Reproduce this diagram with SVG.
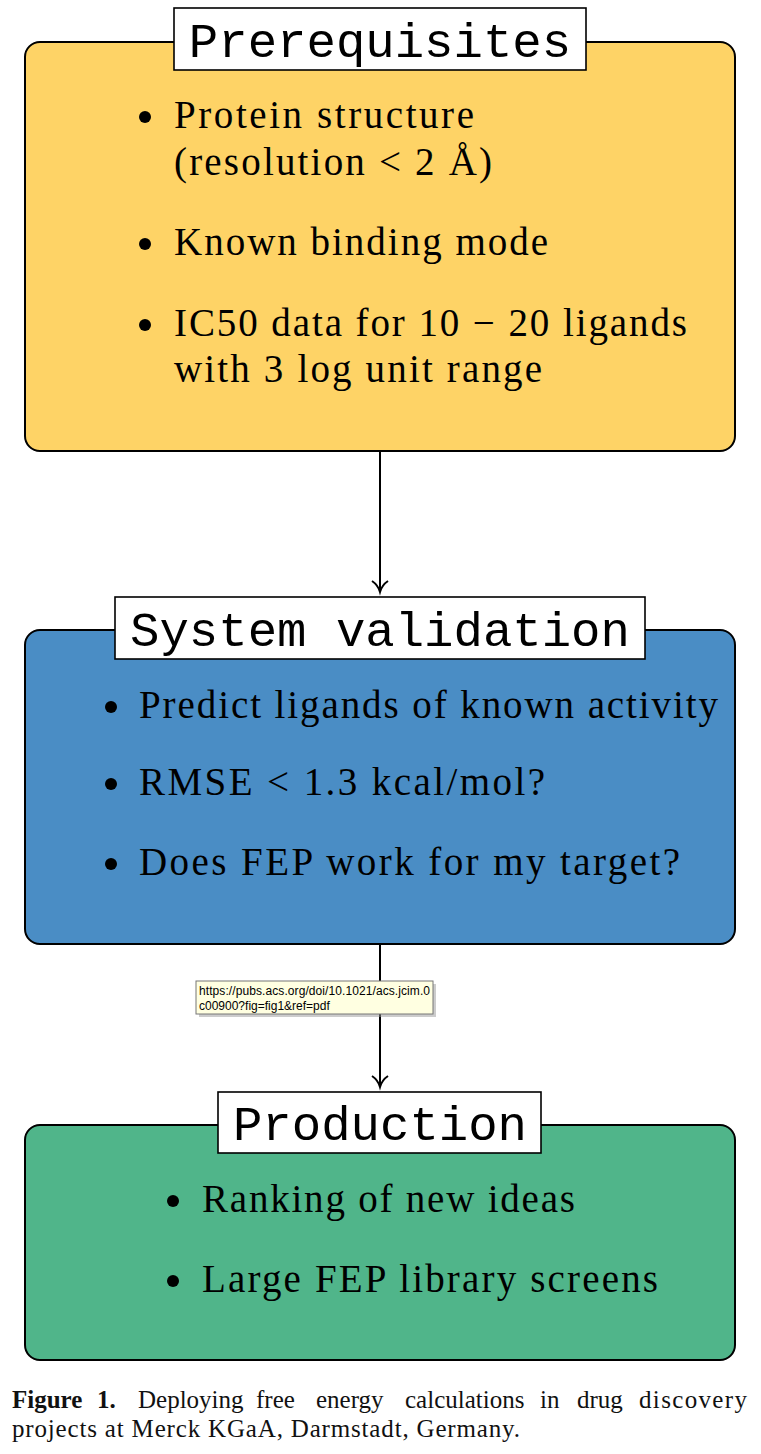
<svg xmlns="http://www.w3.org/2000/svg" width="761" height="1454" viewBox="0 0 761 1454">
<style>
.box{stroke:#000;stroke-width:2}
.lbl{fill:#fff;stroke:#000;stroke-width:1.6}
.ttl{font-family:"Liberation Mono","DejaVu Sans Mono",monospace;font-size:49px;fill:#000;text-anchor:middle}
.txt{font-family:"Liberation Serif","DejaVu Serif",serif;font-size:39px;fill:#000}
.cap{font-family:"Liberation Serif","DejaVu Serif",serif;font-size:25px;fill:#111}
.tip{font-family:"Liberation Sans","DejaVu Sans",sans-serif;font-size:12px;fill:#000}
.edge{stroke:#000;stroke-width:2;fill:none}
</style>
<rect width="761" height="1454" fill="#fff"/>
<g id="connectors">
  <line class="edge" x1="380" y1="452" x2="380" y2="591"/>
  <path class="edge" d="M372,581 Q378,585 380,592 Q382,585 388,581"/>
  <line class="edge" x1="380" y1="944" x2="380" y2="1086"/>
  <path class="edge" d="M372,1076 Q378,1080 380,1087 Q382,1080 388,1076"/>
</g>
<g id="prerequisites">
  <rect class="box" x="25" y="42" width="710" height="409" rx="15" fill="#FED366"/>
  <rect class="lbl" x="174" y="8" width="412" height="62"/>
  <text class="ttl" x="380" y="57">Prerequisites</text>
  <circle cx="145" cy="117" r="6"/>
  <text class="txt" x="174" y="128" textLength="300">Protein structure</text>
  <text class="txt" x="174" y="175" textLength="318">(resolution &lt; 2 Å)</text>
  <circle cx="145" cy="244" r="6"/>
  <text class="txt" x="174" y="255" textLength="374">Known binding mode</text>
  <circle cx="145" cy="325" r="6"/>
  <text class="txt" x="174" y="336" textLength="513">IC50 data for 10 − 20 ligands</text>
  <text class="txt" x="174" y="382" textLength="368">with 3 log unit range</text>
</g>
<g id="system-validation">
  <rect class="box" x="25" y="630" width="710" height="314" rx="15" fill="#4A8DC5"/>
  <rect class="lbl" x="115" y="597" width="530" height="62"/>
  <text class="ttl" x="380" y="646">System validation</text>
  <circle cx="111" cy="707" r="6"/>
  <text class="txt" x="139" y="718" textLength="579">Predict ligands of known activity</text>
  <circle cx="111" cy="784" r="6"/>
  <text class="txt" x="139" y="795" textLength="406">RMSE &lt; 1.3 kcal/mol?</text>
  <circle cx="111" cy="864" r="6"/>
  <text class="txt" x="139" y="875" textLength="541">Does FEP work for my target?</text>
</g>
<g id="production">
  <rect class="box" x="25" y="1125" width="710" height="235" rx="15" fill="#50B58A"/>
  <rect class="lbl" x="218" y="1092" width="323" height="61"/>
  <text class="ttl" x="380" y="1140">Production</text>
  <circle cx="173" cy="1201" r="6"/>
  <text class="txt" x="202" y="1212" textLength="373">Ranking of new ideas</text>
  <circle cx="173" cy="1281" r="6"/>
  <text class="txt" x="202" y="1292" textLength="456">Large FEP library screens</text>
</g>
<g id="tooltip">
  <rect x="199" y="984" width="237" height="33" fill="#999" opacity="0.5"/>
  <rect x="196" y="981" width="237" height="33" fill="#FFFFE1" stroke="#777" stroke-width="1"/>
  <text class="tip" x="199" y="995" textLength="231">https://pubs.acs.org/doi/10.1021/acs.jcim.0</text>
  <text class="tip" x="199" y="1010">c00900?fig=fig1&amp;ref=pdf</text>
</g>
<g id="caption">
  <text class="cap" x="12" y="1408" font-weight="bold">Figure</text>
  <text class="cap" x="97" y="1408" font-weight="bold">1.</text>
  <text class="cap" x="138" y="1408">Deploying</text>
  <text class="cap" x="256" y="1408">free</text>
  <text class="cap" x="316" y="1408">energy</text>
  <text class="cap" x="405" y="1408">calculations</text>
  <text class="cap" x="540" y="1408">in</text>
  <text class="cap" x="577" y="1408">drug</text>
  <text class="cap" x="639" y="1408" textLength="108">discovery</text>
  <text class="cap" x="12" y="1437" textLength="508">projects at Merck KGaA, Darmstadt, Germany.</text>
</g>
</svg>
